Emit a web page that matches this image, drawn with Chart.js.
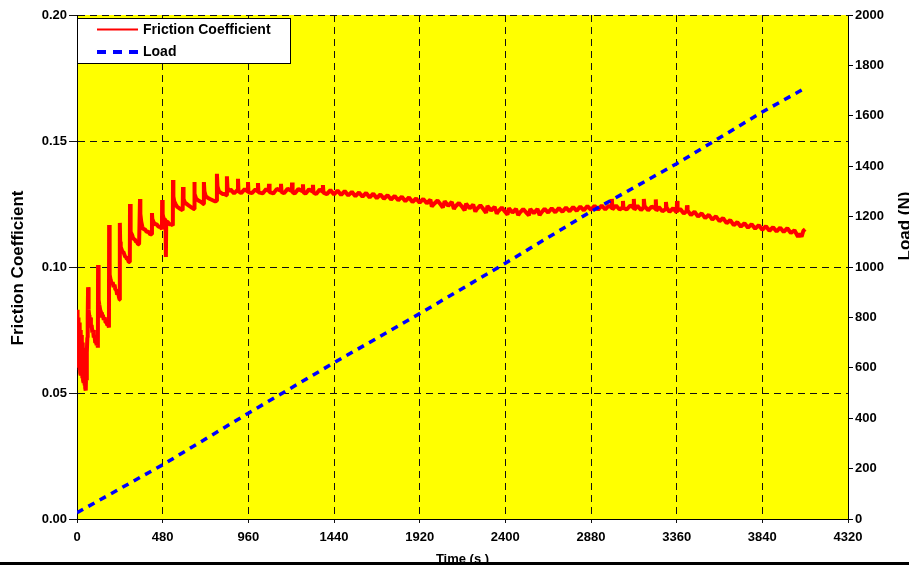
<!DOCTYPE html>
<html>
<head>
<meta charset="utf-8">
<script src="https://cdn.jsdelivr.net/npm/chart.js@4.4.0/dist/chart.umd.min.js"></script>
<style>
  body { margin: 0; background: #fff; }
  #wrap { position: relative; width: 909px; height: 565px; overflow: hidden; }
  #bar { position: absolute; left: 0; top: 562px; width: 909px; height: 3px; background: #000; }
</style>
</head>
<body>
<div id="wrap">
  <canvas id="chart" width="909" height="565"></canvas>
  <div id="bar"></div>
</div>
<script>
// tick labels / axis ranges
const timeTicks = [0, 480, 960, 1440, 1920, 2400, 2880, 3360, 3840, 4320];
const frictionTicks = [0, 0.05, 0.10, 0.15, 0.20];
const loadTicks = [0, 200, 400, 600, 800, 1000, 1200, 1400, 1600, 1800, 2000];

// friction coefficient, running-in part  [time s, mu]
const frictionRunIn = [
  [0,0.083],[1,0.063],[2,0.082],[3,0.062],[4,0.081],[5,0.061],[6,0.080],[7,0.060],[8,0.079],[10,0.060],
  [12,0.078],[14,0.059],[16,0.077],[18,0.058],[20,0.075],[22,0.057],[24,0.073],[26,0.057],[28,0.071],[30,0.056],
  [32,0.070],[34,0.055],[36,0.068],[38,0.054],[40,0.067],[42,0.053],[44,0.065],[46,0.052],[48,0.062],[50,0.051],
  [52,0.060],[54,0.055],[56,0.066],[58,0.072],[60,0.080],[62,0.092],
  [64,0.086],[66,0.083],[68,0.081],[70,0.079],[74,0.080],[78,0.076],[82,0.077],[86,0.074],[90,0.075],[94,0.072],
  [98,0.073],[102,0.070],[106,0.071],[110,0.069],[114,0.070],[117,0.068],[118,0.1008],
  [120,0.092],[122,0.087],[125,0.085],[130,0.083],[135,0.082],[140,0.080],[145,0.081],[150,0.079],[155,0.080],
  [160,0.078],[165,0.078],[170,0.077],[175,0.077],[179,0.076],[180,0.1167],
  [182,0.103],[184,0.097],[188,0.095],[192,0.094],[196,0.093],[200,0.094],[205,0.092],[210,0.093],[215,0.091],
  [220,0.091],[225,0.089],[230,0.090],[235,0.088],[239,0.087],[240,0.1175],
  [242,0.110],[245,0.108],[250,0.107],[255,0.106],[260,0.106],[265,0.105],[270,0.104],[275,0.104],[280,0.103],
  [285,0.103],[290,0.102],[296,0.102],[297,0.125],
  [299,0.116],[302,0.114],[307,0.113],[312,0.112],[318,0.111],[324,0.111],[330,0.110],[336,0.110],[342,0.109],
  [348,0.109],[352,0.109],[353,0.127],
  [355,0.121],[360,0.118],[366,0.116],[372,0.115],[380,0.115],[390,0.114],[400,0.114],[410,0.113],[419,0.113],[420,0.1214],
  [422,0.119],[428,0.118],[436,0.117],[446,0.117],[456,0.116],[466,0.116],[476,0.115],[477,0.1266],
  [480,0.121],[486,0.119],[492,0.119],[496,0.118],[498,0.104],[500,0.118],[508,0.118],[516,0.117],[526,0.117],
  [537,0.1165],[538,0.1345],
  [540,0.128],[545,0.126],[552,0.125],[560,0.124],[570,0.1235],[580,0.123],[592,0.1225],[594,0.1317],
  [597,0.127],[605,0.1255],[615,0.125],[625,0.1245],[635,0.124],[645,0.1235],[656,0.123],[657,0.1337],
  [660,0.129],[668,0.127],[678,0.1265],[690,0.126],[700,0.1255],[710,0.125],[711,0.1337],
  [714,0.130],[722,0.128],[732,0.1275],[745,0.127],[760,0.1265],[775,0.126],[783,0.1262],[784,0.137],
  [787,0.132],[795,0.130],[805,0.1295],[815,0.129],[825,0.129],[839,0.1285],[840,0.136],
  [843,0.1315],[852,0.130]
];

// friction coefficient, steady part  [time s, mu]
const frictionSteady = [
  [860,0.1308],[880,0.1292],[900,0.1306],[902,0.1350],[905,0.1300],[920,0.1293],[940,0.1309],[956,0.1300],
  [958,0.1337],[961,0.1296],[980,0.1293],[1000,0.1308],[1012,0.1300],[1014,0.1333],[1017,0.1296],[1040,0.1292],
  [1060,0.1309],[1074,0.1302],[1076,0.1330],[1079,0.1297],[1100,0.1292],[1120,0.1310],[1141,0.1303],[1143,0.1330],
  [1146,0.1298],[1160,0.1293],[1180,0.1310],[1203,0.1302],[1205,0.1335],[1208,0.1297],[1220,0.1292],[1240,0.1309],
  [1264,0.1301],[1266,0.1328],[1269,0.1296],[1280,0.1291],[1300,0.1308],[1320,0.1300],[1322,0.1326],[1325,0.1296],
  [1340,0.1290],[1360,0.1307],[1376,0.1299],[1378,0.1325],[1381,0.1295],[1400,0.1289],
  [1420,0.1305],[1440,0.1288],[1460,0.1303],[1480,0.1286],[1500,0.1301],[1520,0.1284],[1540,0.1298],[1560,0.1281],
  [1580,0.1296],[1600,0.1279],[1620,0.1294],[1640,0.1276],[1660,0.1291],[1680,0.1273],[1700,0.1288],[1720,0.1271],
  [1740,0.1285],[1760,0.1268],[1780,0.1282],[1800,0.1265],[1820,0.1279],[1840,0.1261],[1860,0.1276],[1880,0.1258],
  [1900,0.1272],[1920,0.1255],[1940,0.1270],[1960,0.1253],[1980,0.1267],[1988,0.1240],[2000,0.1250],
  [2020,0.1264],[2040,0.1246],[2050,0.1236],[2060,0.1261],[2080,0.1243],[2100,0.1258],[2112,0.1230],[2120,0.1240],
  [2140,0.1254],[2160,0.1237],[2172,0.1225],[2180,0.1251],[2200,0.1233],[2220,0.1248],[2232,0.1220],[2240,0.1230],
  [2260,0.1245],[2280,0.1227],[2292,0.1215],[2300,0.1242],[2320,0.1224],[2340,0.1239],[2352,0.1212],[2360,0.1221],
  [2380,0.1236],[2400,0.1218],[2412,0.1208],[2420,0.1233],[2440,0.1216],[2460,0.1231],[2472,0.1206],[2480,0.1215],
  [2500,0.1230],[2520,0.1214],[2532,0.1205],[2540,0.1230],[2560,0.1214],[2580,0.1230],[2592,0.1206],[2600,0.1214],
  [2620,0.1231],[2640,0.1216],[2660,0.1233],[2680,0.1217],[2700,0.1234],[2720,0.1219],[2740,0.1236],[2760,0.1221],
  [2780,0.1238],[2800,0.1223],[2820,0.1240],[2840,0.1225],[2860,0.1242],[2880,0.1227],[2900,0.1243],[2920,0.1227],
  [2940,0.1244],[2960,0.1228],[2980,0.1244],[2995,0.1236],[2997,0.1270],[3000,0.1228],[3020,0.1244],[3040,0.1228],
  [3057,0.1236],[3059,0.1262],[3062,0.1234],[3080,0.1228],[3100,0.1244],[3118,0.1236],[3120,0.1270],[3123,0.1227],
  [3140,0.1243],[3160,0.1226],[3174,0.1236],[3176,0.1270],[3180,0.1242],[3200,0.1225],[3220,0.1240],[3241,0.1232],
  [3243,0.1268],[3246,0.1223],[3260,0.1238],[3280,0.1221],[3298,0.1230],[3300,0.1258],[3303,0.1236],[3320,0.1219],
  [3340,0.1233],[3360,0.1216],[3362,0.1262],[3365,0.1224],[3380,0.1230],[3400,0.1212],[3416,0.1222],[3418,0.1245],
  [3421,0.1225],[3440,0.1206],[3460,0.1219],[3480,0.1200],[3500,0.1213],[3520,0.1194],[3540,0.1207],[3560,0.1188],
  [3580,0.1201],[3600,0.1182],[3620,0.1194],[3640,0.1174],[3660,0.1186],[3680,0.1166],[3700,0.1178],[3720,0.1160],
  [3740,0.1174],[3760,0.1156],[3780,0.1170],[3800,0.1152],[3820,0.1166],[3840,0.1148],[3860,0.1162],[3880,0.1144],
  [3900,0.1158],[3920,0.1141],[3940,0.1156],[3960,0.1139],[3980,0.1154],[4000,0.1135],[4020,0.1146],[4040,0.1120],
  [4050,0.1132],[4060,0.1120],[4070,0.1144],[4080,0.1150]
];

// applied load  [time s, N]
const loadPoints = [
  [0,25],[480,215],[960,420],[1440,620],[1920,815],[2400,1015],[2880,1220],[3360,1410],[3840,1615],[4085,1712]
];

const FONT = "Arial, 'Liberation Sans', sans-serif";
const toXY = arr => arr.map(p => ({ x: p[0], y: p[1] }));

const frictionData = toXY(frictionRunIn.concat(frictionSteady));
const loadData = toXY(loadPoints);

const gridColor = "#111";
const tickFont = { family: FONT, size: 13, weight: "bold" };

const plotBackground = {
  id: "plotBackground",
  beforeDraw(chart) {
    const { ctx, chartArea: a } = chart;
    ctx.save();
    ctx.fillStyle = "#ffff00";
    ctx.fillRect(a.left, a.top, a.right - a.left, a.bottom - a.top);
    ctx.restore();
  }
};

const extras = {
  id: "extras",
  afterDraw(chart) {
    const { ctx, chartArea: a } = chart;
    ctx.save();

    // legend box
    const lx = 77, ly = 18, lw = 213, lh = 45;
    ctx.fillStyle = "#fff";
    ctx.fillRect(lx, ly, lw, lh);
    ctx.strokeStyle = "#000";
    ctx.lineWidth = 1;
    ctx.strokeRect(lx + 0.5, ly + 0.5, lw, lh);

    ctx.strokeStyle = "#ff0000";
    ctx.lineWidth = 2;
    ctx.beginPath();
    ctx.moveTo(97, 29.5);
    ctx.lineTo(138, 29.5);
    ctx.stroke();

    ctx.strokeStyle = "#0000ff";
    ctx.lineWidth = 4;
    ctx.setLineDash([9, 7]);
    ctx.beginPath();
    ctx.moveTo(97, 52);
    ctx.lineTo(138, 52);
    ctx.stroke();
    ctx.setLineDash([]);

    ctx.fillStyle = "#000";
    ctx.font = "bold 14px " + FONT;
    ctx.textBaseline = "middle";
    ctx.textAlign = "left";
    ctx.fillText("Friction Coefficient", 143, 30);
    ctx.fillText("Load", 143, 52);

    // axis titles
    ctx.font = "bold 17px " + FONT;
    ctx.textAlign = "center";
    ctx.save();
    ctx.translate(18, 268);
    ctx.rotate(-Math.PI / 2);
    ctx.fillText("Friction Coefficient", 0, 0);
    ctx.restore();

    ctx.save();
    ctx.translate(905, 226);
    ctx.rotate(-Math.PI / 2);
    ctx.fillText("Load (N)", 0, 0);
    ctx.restore();

    ctx.font = "bold 13px " + FONT;
    ctx.textBaseline = "top";
    ctx.fillText("Time (s )", (a.left + a.right) / 2, 553);

    ctx.restore();
  }
};

new Chart(document.getElementById("chart"), {
  type: "line",
  data: {
    datasets: [
      {
        label: "Friction Coefficient",
        data: frictionData,
        yAxisID: "y",
        borderColor: "#ff0000",
        borderWidth: 4,
        borderJoinStyle: "bevel",
        pointRadius: 0,
        tension: 0,
        order: 1
      },
      {
        label: "Load",
        data: loadData,
        yAxisID: "y1",
        borderColor: "#0000ff",
        borderWidth: 3.5,
        borderDash: [7, 6],
        pointRadius: 0,
        tension: 0,
        order: 0
      }
    ]
  },
  options: {
    responsive: false,
    animation: false,
    layout: { padding: { top: 15, bottom: 0, left: 0, right: 0 } },
    plugins: { legend: { display: false }, tooltip: { enabled: false } },
    scales: {
      x: {
        type: "linear",
        min: timeTicks[0],
        max: timeTicks[timeTicks.length - 1],
        afterBuildTicks: s => { s.ticks = timeTicks.map(v => ({ value: v })); },
        afterFit: s => { s.height = 46; },
        ticks: { color: "#000", font: tickFont, padding: 7, maxRotation: 0, callback: v => String(v) },
        grid: { color: gridColor, lineWidth: 1, tickLength: 4 },
        border: { display: true, color: "#000", width: 1, dash: [7, 5] }
      },
      y: {
        position: "left",
        min: frictionTicks[0],
        max: frictionTicks[frictionTicks.length - 1],
        afterBuildTicks: s => { s.ticks = frictionTicks.map(v => ({ value: v })); },
        afterFit: s => { s.width = 77; },
        ticks: { color: "#000", font: tickFont, padding: 2, callback: v => v.toFixed(2) },
        grid: { color: gridColor, lineWidth: 1, tickLength: 8 },
        border: { display: true, color: "#000", width: 1, dash: [7, 5] }
      },
      y1: {
        position: "right",
        min: loadTicks[0],
        max: loadTicks[loadTicks.length - 1],
        afterBuildTicks: s => { s.ticks = loadTicks.map(v => ({ value: v })); },
        afterFit: s => { s.width = 61; },
        ticks: { color: "#000", font: tickFont, padding: 2, callback: v => String(v) },
        grid: { drawOnChartArea: false, color: "#000", tickLength: 5 },
        border: { display: true, color: "#000", width: 1 }
      }
    }
  },
  plugins: [plotBackground, extras]
});
</script>
</body>
</html>
